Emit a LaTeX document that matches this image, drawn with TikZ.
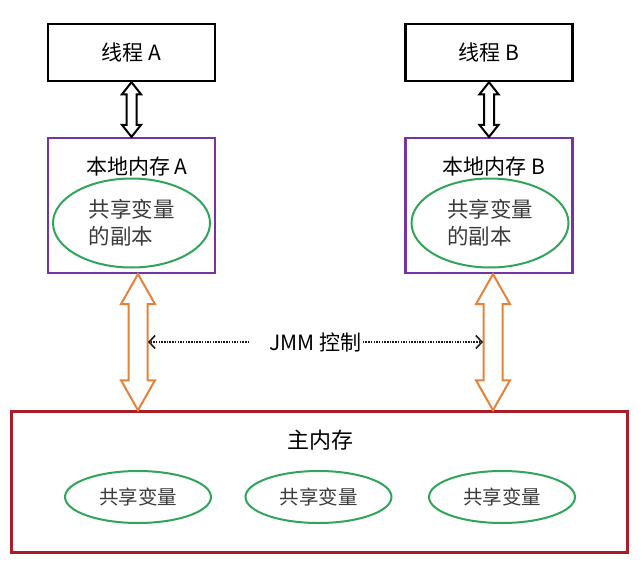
\documentclass[tikz,border=0pt]{standalone}
\usepackage{fontspec}
\newfontfamily\cjk{Noto Sans CJK SC}
\usepackage{tikz}
\usetikzlibrary{arrows.meta,shapes.geometric,calc,positioning}

\definecolor{lmpurple}{HTML}{7434A2}
\definecolor{vargreen}{HTML}{30A559}
\definecolor{busorange}{HTML}{E4823A}
\definecolor{mmred}{HTML}{A81E24}
\definecolor{vartext}{HTML}{3A3A3A}

% hollow double arrow: style, top end, bottom end, head half width, shaft half width, head length
\newcommand\blockarrow[6]{%
  \draw[#1] (#2) -- ($(#2)+(#4,#6)$) -- ($(#2)+(#5,#6)$) -- ($(#3)+(#5,-#6)$)
    -- ($(#3)+(#4,-#6)$) -- (#3) -- ($(#3)+(-#4,-#6)$) -- ($(#3)+(-#5,-#6)$)
    -- ($(#2)+(-#5,#6)$) -- ($(#2)+(-#4,#6)$) -- cycle;}

\begin{document}
\begin{tikzpicture}[x=1pt,y=-1pt]
        \tikzstyle{thread}=[rectangle,draw=black,line width=2.5pt,minimum width=167pt,minimum height=57pt,font={\cjk\fontsize{21}{25}\selectfont}]
        \tikzstyle{localmem}=[rectangle,draw=lmpurple,line width=2.2pt,minimum width=167pt,minimum height=135pt]
        \tikzstyle{mainmem}=[rectangle,draw=mmred,line width=2.5pt,minimum width=616pt,minimum height=141pt]
        \tikzstyle{title}=[inner sep=0pt,font={\cjk\fontsize{21}{25}\selectfont}]
        \tikzstyle{copyvar}=[ellipse,draw=vargreen,line width=2pt,minimum width=157pt,minimum height=89pt,inner sep=0pt,align=left,text=vartext,font={\cjk\fontsize{21.5}{27}\selectfont}]
        \tikzstyle{sharedvar}=[ellipse,draw=vargreen,line width=2pt,minimum width=146pt,minimum height=52pt,inner sep=0pt,text=vartext,font={\cjk\fontsize{19.5}{23}\selectfont}]
        \tikzstyle{blackbus}=[draw=black,line width=2pt,fill=white]
        \tikzstyle{orangebus}=[draw=busorange,line width=2pt,fill=white]
        \tikzstyle{jmmtext}=[inner sep=0pt,font={\cjk\fontsize{21}{25}\selectfont}]
        \tikzstyle{jmmline}=[line width=1.6pt,dash pattern=on 1.5pt off 1.2pt,draw=black!90,-{Straight Barb[length=6pt,width=13pt,line width=1.6pt]}]

        \useasboundingbox (0,0) rectangle (643,562);

        % threads
        \node[thread] (ta) at (131.5,52.5) {线程 A};
        \node[thread] (tb) at (489,52.5) {线程 B};

        % local memories
        \node[localmem] (la) at (131.5,205.5) {};
        \node[title] (lat) at (137,167) {本地内存 A};
        \node[copyvar] (ca) at (131.5,223) {共享变量\\的副本};
        \node[localmem] (lb) at (489,205.5) {};
        \node[title] (lbt) at (494,167) {本地内存 B};
        \node[copyvar] (cb) at (490,223) {共享变量\\的副本};

        % main memory
        \node[mainmem] (mm) at (319.5,482) {};
        \node[title,font={\cjk\fontsize{22}{26}\selectfont}] (mmt) at (320,440) {主内存};
        \node[sharedvar] (v1) at (138,497) {共享变量};
        \node[sharedvar] (v2) at (318.5,497) {共享变量};
        \node[sharedvar] (v3) at (502,497) {共享变量};

        \coordinate (ja) at (138,342);
        \coordinate (jb) at (493,342);

        % thread <-> local memory
        \blockarrow{blackbus}{ta.south}{la.north}{9.5}{5}{12}
        \blockarrow{blackbus}{tb.south}{lb.north}{9.5}{5}{12}
        % local memory <-> main memory
        \blockarrow{orangebus}{la.south -| ja}{mm.north -| ja}{17}{9.5}{30}
        \blockarrow{orangebus}{lb.south -| jb}{mm.north -| jb}{17}{9.5}{30}

        % JMM
        \node[jmmtext] (jmm) at (315.5,342) {JMM 控制};
        \draw[jmmline] ([xshift=-20pt]jmm.west) -- ($(ja)+(10,0)$);
        \draw[jmmline] ([xshift=1pt]jmm.east) -- ($(jb)+(-10,0)$);
\end{tikzpicture}
\end{document}
